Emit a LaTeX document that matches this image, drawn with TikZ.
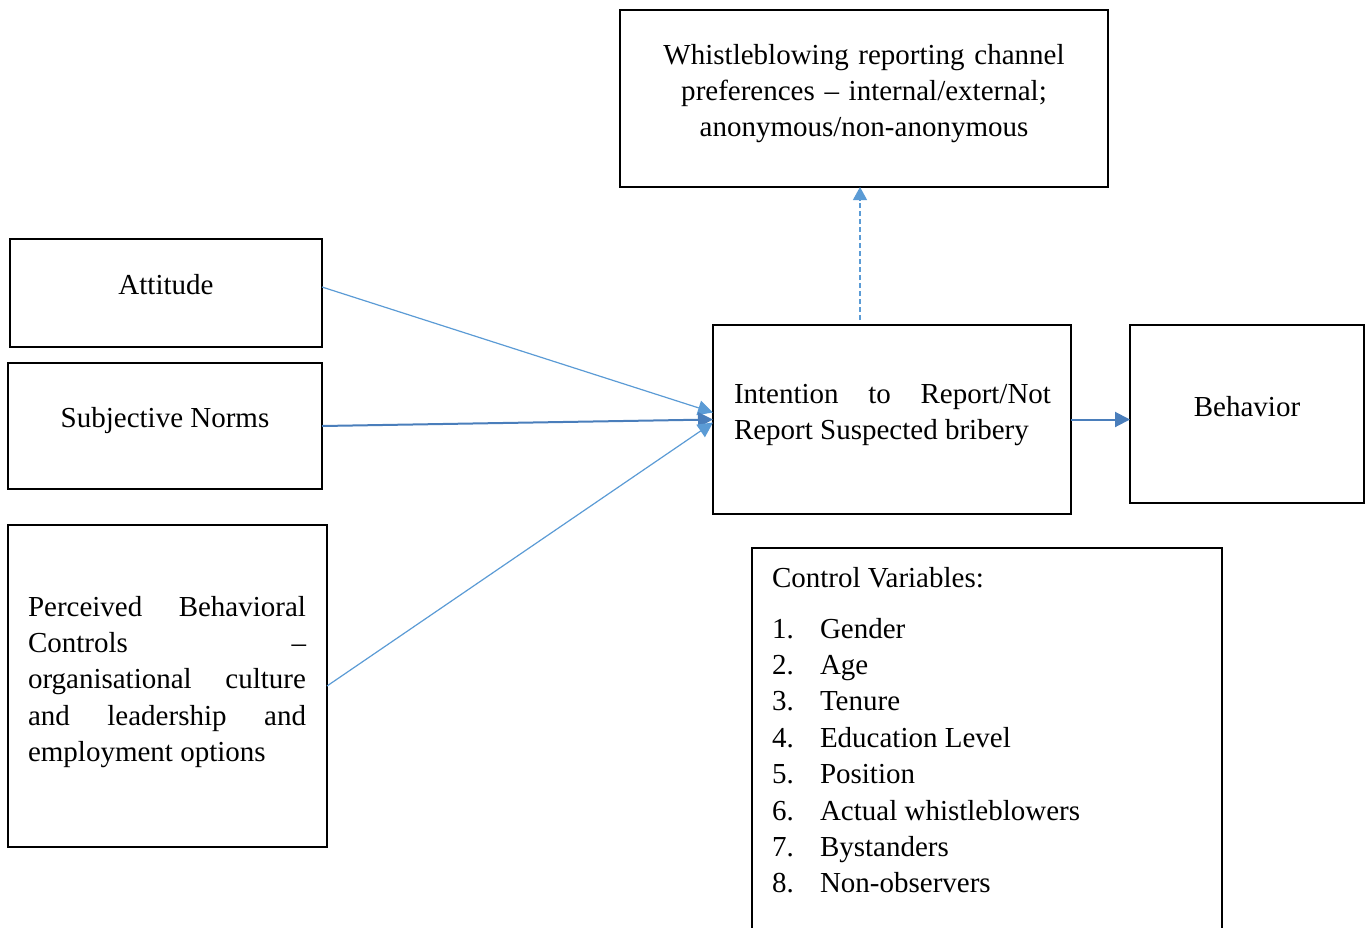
\documentclass[tikz,border=0pt]{standalone}
\usepackage{fontspec}
\setmainfont{Liberation Serif}
\usetikzlibrary{arrows.meta}
\definecolor{linkblue}{HTML}{5B9BD5}
\definecolor{deepblue}{HTML}{4A7EBB}
\hbadness=10000
\begin{document}
\begin{tikzpicture}[x=1pt,y=-1pt,
  box/.style={draw=black,line width=1.8pt,rectangle,anchor=north west,inner sep=0pt,outer sep=0pt},
  txt/.style={inner sep=0pt,outer sep=0pt,font=\fontsize{29}{36.4}\selectfont},
  link/.style={draw=linkblue,line width=1.2pt,-{Triangle[length=15pt,width=15pt]}},
  boldlink/.style={draw=deepblue,line width=2pt,-{Triangle[length=15pt,width=15pt]}},
  dashlink/.style={draw=linkblue,line width=1.2pt,dash pattern=on 5pt off 3pt,-{Triangle[length=13pt,width=14pt]}}]
\useasboundingbox (0,0) rectangle (1370,927);
\clip (0,0) rectangle (1370,927);

% boxes
\node[box,minimum width=488pt,minimum height=177pt] (wb) at (620,10) {};
\node[box,minimum width=312pt,minimum height=108pt] (att) at (10,239) {};
\node[box,minimum width=314pt,minimum height=126pt] (sn) at (8,363) {};
\node[box,minimum width=319pt,minimum height=322pt] (pbc) at (8,525) {};
\node[box,minimum width=358pt,minimum height=189pt] (int) at (713,325) {};
\node[box,minimum width=234pt,minimum height=178pt] (beh) at (1130,325) {};
\node[box,minimum width=470pt,minimum height=420pt] (cv) at (752,548) {};

% box texts
\node[txt,anchor=base,text width=480pt,align=center] (wbt) at (864,64)
  {Whistleblowing reporting channel\\preferences -- internal/external;\\anonymous/non-anonymous};
\node[txt,anchor=base] (attt) at (166,294) {Attitude};
\node[txt,anchor=base] (snt) at (165,427) {Subjective Norms};
\node[txt,anchor=base west,text width=278pt,align=justify] (pbct) at (28,616)
  {Perceived Behavioral\linebreak Controls~\hfill--\linebreak organisational culture\linebreak and leadership and\linebreak employment options};
\node[txt,anchor=base west,text width=317pt,align=justify] (intt) at (734,403)
  {Intention to Report/Not\linebreak Report Suspected bribery};
\node[txt,anchor=base] (beht) at (1247,416) {Behavior};

% control variables
\node[txt,anchor=base west] (cvt) at (772,587) {Control Variables:};
\foreach \n/\item [count=\k from 0] in {1/Gender,2/Age,3/Tenure,4/Education Level,5/Position,6/Actual whistleblowers,7/Bystanders,8/Non-observers}{
  \node[txt,anchor=base west] (cvn\n) at (772,638+36.4*\k) {\n.};
  \node[txt,anchor=base west] (cvi\n) at (820,638+36.4*\k) {\item};
}

% connectors
\draw[link] ([yshift=6pt]att.east) -- ([yshift=7pt]int.west);
\draw[boldlink] (sn.east) -- (int.west);
\draw[link] (pbc.east) -- ([yshift=-3pt]int.west);
\draw[boldlink] (int.east) -- (int.east -| beh.west);
\draw[dashlink] ([xshift=-32pt,yshift=5pt]int.north) -- ([xshift=-32pt]int.north |- wb.south);
\end{tikzpicture}
\end{document}
